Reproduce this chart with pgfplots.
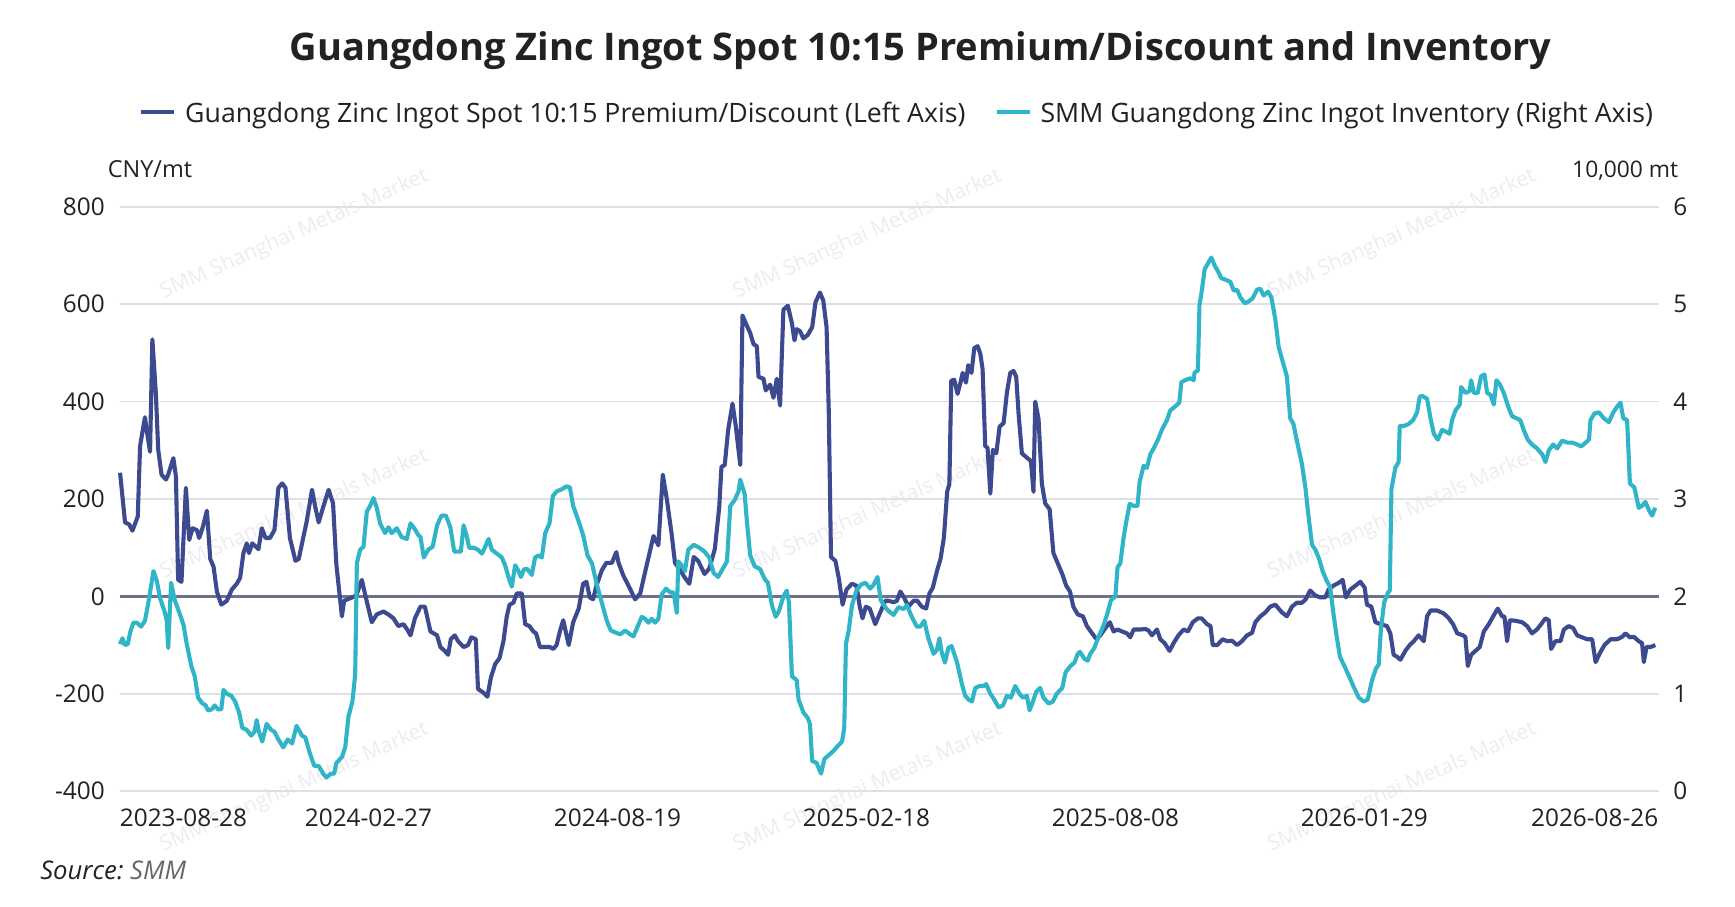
\documentclass[border=0pt]{standalone}
\usepackage{pgfplots}
\pgfplotsset{compat=1.18}
\usepackage{fontspec}
\setmainfont{Open Sans}
\definecolor{cdark}{HTML}{3D4A8F}
\definecolor{ccyan}{HTML}{2FB4C8}
\definecolor{cgrid}{HTML}{DFE0E7}
\definecolor{czero}{HTML}{6E7189}
\definecolor{ctext}{HTML}{222222}
\definecolor{cwm}{HTML}{EDEDF1}

\pgfplotstableread{
x y
108.5 254
113 152
116.7 148
119.7 135
124.5 164
126.6 309
131 368
132.6 341
135.6 297
137.7 528
140.8 419
143 301
146 250
150 240
152 250
156.7 284
159 246
161 34
164 30
168 223
171 116
174 140
178 136
180 120
183 140
187 176
190 77
193 61
196 10
200 -17
205 -9
209.5 14
214 26
217 38
220 89
223 109
225 89
228 109
233.6 97
236.6 140
240 120
244 120
248 136
251.6 223
255 232
258 223
262 120
267 73
270 77
274 120
277 152
282 219
285 183
288 152
292 183
297 219
301 191
304 65
309 -41
311 -9
314 -6
318.5 -2
322 2
327 34
330.6 -2
336 -53
340.5 -37
346.5 -31
351 -37
355.6 -45
360 -61
364.6 -57
368 -68
371 -80
375 -45
380 -21
384 -21
389 -72
395 -80
398 -104
402 -112
405 -120
407.4 -88
411 -80
414 -92
419 -104
423 -100
426 -84
430 -88
432 -190
437 -198
440.5 -206
443.6 -167
447.5 -139
451.4 -127
455 -92
458 -41
460.5 -17
464 -13
467 6
471.6 6
474.6 -57
478.5 -61
482 -72
484.5 -76
488 -104
493 -104
497 -104
500 -108
503 -100
506 -72
509 -49
514 -100
518 -53
523 -25
527 26
530 30
533 -2
536 -6
539 22
544 54
548 69
553 69
557 91
559 69
563.5 42
568 22
574 -6
578.6 6
583 50
590.6 124
595 105
599 250
602.7 199
607 128
610 69
614.7 54
619 38
623 26
627 81
631 73
636.7 46
641 57
646 97
650 183
652 266
655 270
658 341
662 396
665 349
669 270
671 577
674 561
678 541
681 518
684 514
685.5 451
690 447
692 423
696 435
699 408
702 447
705 392
708 589
712 597
715.7 561
718 526
720 549
723 545
726 530
730 537
734 553
737 604
741 624
744 608
747 553
749 380
751 81
755 73
758 38
761.5 -17
765 14
770 26
774 22
777 -21
779.5 -45
782.5 -21
786 -25
791 -57
795.5 -33
800 -9
803 -9
807.5 -12
810.6 -9
813.6 10
817 -2
821 -21
825.6 -9
829 -9
833 -21
837 -25
840 6
843 18
847 54
850 77
853 120
856 215
858 231
859.7 443
862.4 445
865.4 416
868 439
870 459
873 439
875 475
878 459
880.5 510
883.5 514
886 498
888 467
890.4 309
892.5 305
895 211
897.3 301
900.4 294
903.4 349
907 356
910 419
913 459
916 463
918.4 451
920.5 376
923.5 294
927.5 286
931.7 278
934 215
935.6 400
938.6 364
941.6 231
944.6 191
948.6 179
952 89
955 73
960 46
963.6 22
967 10
970 -21
974 -37
978.7 -41
982.3 -61
987 -76
991 -88
994.4 -80
999 -65
1003 -53
1006.4 -72
1010 -68
1014 -72
1018.5 -76
1021.5 -84
1024.5 -68
1030.5 -68
1035 -67
1038 -70
1041 -80
1045.6 -68
1048.6 -88
1052.5 -96
1057 -112
1060.6 -96
1065 -80
1069.7 -68
1073.6 -72
1078 -53
1082.6 -45
1086 -45
1090.8 -57
1094 -61
1096 -100
1100 -100
1105 -88
1109 -92
1113.4 -91
1118 -100
1122.4 -92
1127 -80
1131.5 -75
1134.5 -53
1139 -41
1143.5 -33
1148 -21
1152.5 -17
1158.6 -33
1163 -41
1167.6 -21
1172 -13
1176.7 -13
1180 -6
1184 12
1188.7 2
1193 -2
1197.7 -2
1200.7 14
1205 22
1210 28
1213.4 34
1216.4 -2
1220.3 14
1225 22
1229.4 30
1233.3 18
1235.4 -17
1239.3 -21
1243 -53
1247.5 -57
1253.5 -61
1256.5 -76
1259.5 -120
1262.6 -124
1265.6 -130
1270 -112
1274 -100
1277.7 -92
1282 -80
1286.7 -92
1289.7 -41
1292.8 -29
1298.8 -29
1304.8 -35
1309.3 -45
1313.2 -57
1317 -76
1322.3 -80
1324.4 -84
1326.5 -143
1329.5 -120
1333.4 -112
1337.3 -104
1341 -72
1345.5 -57
1349.4 -41
1353.6 -25
1357.5 -41
1359.6 -41
1362 -92
1364.5 -49
1369.6 -50
1375.6 -53
1380.1 -61
1384.6 -76
1389 -68
1392.8 -57
1396.7 -45
1399.7 -49
1401.8 -108
1405.7 -92
1410.3 -92
1413.3 -68
1417.8 -61
1421.7 -65
1425.3 -80
1429.8 -84
1434.4 -88
1438.9 -88
1442 -135
1446 -116
1450 -100
1455.5 -88
1461.5 -88
1466 -83
1469 -76
1473 -84
1476.6 -83
1481 -92
1484 -96
1485.6 -135
1488 -104
1491.6 -104
1496 -100
}\premium

\pgfplotstableread{
x y
108.5 1.51
110.6 1.57
113 1.50
115.5 1.51
117.6 1.63
120.6 1.73
123.6 1.73
127.5 1.69
131 1.75
134 1.93
138.7 2.26
141.7 2.16
144.7 1.98
148.6 1.85
150.7 1.75
152 1.47
154.6 2.14
158 1.96
162.8 1.81
165.8 1.71
168.8 1.51
173 1.28
176 1.18
179 0.96
183 0.90
186 0.88
187.8 0.83
191.4 0.84
194 0.88
197 0.84
200 0.84
202 1.04
205 1.00
209 0.98
212.5 0.92
216 0.81
219 0.65
223 0.63
227 0.57
230 0.61
232 0.73
234 0.61
237 0.51
241 0.69
245 0.63
248 0.61
251.6 0.53
256 0.45
260 0.53
264 0.49
268 0.67
273 0.57
276 0.55
280 0.39
284 0.26
288 0.26
292 0.18
295 0.14
299 0.18
302 0.18
304 0.29
309 0.35
312 0.45
315 0.77
318.5 0.92
321 1.20
322.5 2.34
325.5 2.48
328.5 2.51
331.5 2.87
334.5 2.93
337.5 3.01
340.5 2.91
343.5 2.75
348 2.65
351 2.71
354 2.65
358.6 2.70
363 2.61
367.6 2.59
371 2.75
375 2.69
378 2.63
380 2.61
383 2.40
387 2.48
391 2.51
395 2.73
399 2.83
403 2.83
407 2.71
410.5 2.46
413.5 2.46
416.5 2.46
419 2.73
422 2.61
424 2.50
428 2.50
432 2.48
435.5 2.44
438.5 2.51
441.5 2.59
444.5 2.48
449 2.44
453.5 2.40
456.5 2.32
459.5 2.20
462.5 2.10
465.6 2.32
468.6 2.26
470.7 2.20
473.7 2.28
476.7 2.28
480.6 2.22
483.6 2.40
486.7 2.42
489.7 2.40
492.7 2.65
496.6 2.75
499.6 3.03
503.2 3.08
507.7 3.10
512 3.13
515 3.12
518 2.93
523 2.77
527 2.63
531 2.42
535 2.34
539 2.14
544 1.93
548.4 1.75
552 1.65
556 1.63
560.5 1.61
565 1.65
569.5 1.61
572.5 1.59
577 1.71
580 1.79
583 1.77
586 1.73
589 1.77
592 1.73
595 1.77
598 2.02
602 2.08
605.7 2.04
608.7 2.04
611.7 1.83
613 2.36
616 2.32
619 2.26
622 2.48
627 2.53
632 2.50
636.7 2.46
641 2.40
645 2.24
649 2.20
653 2.28
657 2.36
660 2.93
664 2.99
667.5 3.08
669 3.20
673 3.05
675 2.77
678 2.42
682 2.31
687 2.28
691 2.18
694 2.14
697.6 1.91
701 1.79
704 1.85
708 2.00
711 2.06
713 1.94
715.7 1.18
720 1.14
721.7 0.94
726 0.81
730 0.75
732 0.69
734 0.31
738 0.29
742 0.18
745 0.33
749 0.37
753 0.41
756 0.45
761 0.51
763 0.65
764.5 1.51
767 1.65
770 1.91
774 2.06
778 2.12
782 2.14
786.5 2.08
789.5 2.12
793 2.20
796 1.96
800 1.89
803 1.85
807.5 1.81
812 1.89
816.6 1.87
819.6 1.91
824 1.79
828.6 1.69
831.7 1.69
835.3 1.75
839 1.57
843.7 1.41
846.7 1.45
849 1.57
851 1.43
854 1.32
857 1.47
860 1.49
865 1.32
869.3 1.10
872.3 0.98
875.4 0.94
878.4 0.92
881.4 1.06
885.3 1.08
889 1.08
891.3 1.10
895 1.00
898.5 0.94
902.5 0.86
906.4 0.88
910 0.98
913.6 0.96
917.5 1.08
921.4 1.00
924.5 0.96
928 0.98
930.5 0.83
933.5 0.92
936.5 1.02
940 1.06
943 0.96
947.7 0.90
951.5 0.92
955 1.00
960 1.06
963 1.22
967 1.28
971 1.32
974 1.41
976 1.43
980 1.36
983 1.34
985.3 1.41
989 1.47
993 1.59
997 1.69
1000.4 1.81
1004 1.96
1008 2.00
1010 2.30
1012.5 2.34
1015.5 2.61
1018.5 2.81
1021 2.95
1024.5 2.93
1028 2.93
1030 3.18
1033.5 3.34
1036.5 3.32
1039.6 3.46
1042.6 3.52
1046.5 3.61
1050 3.71
1054.6 3.81
1057.6 3.91
1062 3.95
1065.8 3.99
1067.6 4.20
1071 4.22
1075.7 4.24
1078.7 4.22
1079.6 4.30
1082.6 4.32
1084 4.99
1086 5.13
1088.7 5.36
1091.7 5.42
1094.7 5.48
1097.7 5.40
1100.7 5.34
1103.7 5.27
1108 5.25
1112 5.23
1115 5.14
1118 5.15
1121 5.07
1125 5.01
1128.5 5.03
1132 5.06
1136 5.15
1139 5.16
1142 5.09
1146 5.13
1149 5.07
1152.5 4.85
1155.6 4.56
1159 4.42
1163 4.26
1166 3.83
1169 3.77
1172 3.60
1176.6 3.36
1179.7 3.12
1182.7 2.81
1185.7 2.53
1188.7 2.48
1192.3 2.38
1195.3 2.26
1199 2.16
1202 2.10
1205 1.83
1208 1.59
1211 1.38
1216 1.26
1220 1.16
1223 1.08
1228 0.96
1232.4 0.92
1236 0.94
1240 1.14
1243.5 1.26
1246 1.30
1248 1.67
1251 1.94
1254.4 2.04
1256 2.06
1257.5 3.10
1261 3.32
1264 3.38
1265 3.75
1268.7 3.75
1273 3.77
1277 3.81
1280.7 3.89
1283 4.05
1285.2 4.06
1289.7 4.03
1292.8 3.83
1295.8 3.67
1299.4 3.61
1303.3 3.71
1307.2 3.69
1310 3.67
1312.3 3.81
1315.4 3.91
1319.3 3.97
1320.5 4.15
1324.4 4.09
1328.3 4.11
1329.5 4.22
1332 4.09
1335.5 4.09
1338.5 4.26
1341.6 4.28
1344 4.09
1347 4.07
1350 3.97
1352.4 4.22
1355.4 4.18
1359 4.09
1363.6 3.93
1366.6 3.85
1370.5 3.83
1374 3.81
1377 3.71
1380.7 3.61
1384.6 3.56
1389 3.52
1393.7 3.46
1396.7 3.38
1399.7 3.50
1403.6 3.56
1407.3 3.52
1411.8 3.60
1416.3 3.58
1420.8 3.58
1425.3 3.56
1429 3.54
1433 3.58
1436 3.61
1437.4 3.81
1441 3.88
1445 3.89
1449.4 3.83
1454 3.79
1458 3.89
1461.5 3.95
1464.5 3.99
1467 3.83
1470.5 3.81
1473 3.16
1477 3.12
1481 2.91
1484 2.93
1487 2.97
1490 2.89
1493 2.83
1496 2.91
}\inventory

\begin{document}
\begin{tikzpicture}[x=1pt,y=1pt]
\path[use as bounding box] (0,0) rectangle (784,409.5);
\fill[white] (0,0) rectangle (784,409.5);
% watermarks
\foreach \wx in {133,392,633.5}{
  \foreach \wy in {303.5,177,53.5}{
    \node[rotate=24,text=cwm,font=\fontsize{9.5}{11}\selectfont] at (\wx,\wy) {SMM Shanghai Metals Market};
  }
}

\begin{axis}[
  at={(54pt,52pt)}, anchor=south west,
  scale only axis, width=695.5pt, height=264pt,
  xmin=108, xmax=1499, ymin=-400, ymax=800,
  axis x line*=bottom, axis y line*=left,
  axis line style={draw=none},
  tick style={draw=none},
  xtick={333,558,783,1008,1233},
  xticklabels={2024-02-27,2024-08-19,2025-02-18,2025-08-08,2026-01-29},
  ytick={-400,-200,0,200,400,600,800},
  yticklabels={-400,-200,0,200,400,600,800},
  ymajorgrids, grid style={cgrid, line width=0.75pt},
  every tick label/.append style={font=\fontsize{11}{13}\selectfont, text=ctext},
  xticklabel style={inner sep=0pt, anchor=north, yshift=-8pt},
  yticklabel style={inner sep=0pt, anchor=east, xshift=-6.5pt},
  clip=false,
]
\draw[czero, line width=1pt] (axis cs:108,0) -- (axis cs:1499,0);
\addplot[cdark, line width=1.85pt, line join=round] table[x=x,y=y] {\premium};
\node[anchor=north west, inner sep=0pt, font=\fontsize{11}{13}\selectfont, text=ctext, yshift=-8pt] at (axis cs:108,-400) {2023-08-28};
\node[anchor=north east, inner sep=0pt, font=\fontsize{11}{13}\selectfont, text=ctext, yshift=-8pt] at (axis cs:1499,-400) {2026-08-26};
\end{axis}

\begin{axis}[
  at={(54pt,52pt)}, anchor=south west,
  scale only axis, width=695.5pt, height=264pt,
  xmin=108, xmax=1499, ymin=0, ymax=6,
  axis x line=none, axis y line*=right,
  axis line style={draw=none},
  tick style={draw=none},
  ytick={0,1,2,3,4,5,6},
  yticklabels={0,1,2,3,4,5,6},
  every tick label/.append style={font=\fontsize{11}{13}\selectfont, text=ctext},
  yticklabel style={inner sep=0pt, anchor=west, xshift=6.5pt},
  clip=false,
]
\addplot[ccyan, line width=1.85pt, line join=round] table[x=x,y=y] {\inventory};
\end{axis}

% title
\node[anchor=base, text=ctext, font=\fontsize{17.2}{20}\selectfont\bfseries] at (416,382) {Guangdong Zinc Ingot Spot 10:15 Premium/Discount and Inventory};
% legend
\draw[cdark, line width=1.6pt] (63.5,359) -- (78.5,359);
\node[anchor=base west, inner sep=0pt, text=ctext, font=\fontsize{12.05}{14}\selectfont] at (83.5,354) {Guangdong Zinc Ingot Spot 10:15 Premium/Discount (Left Axis)};
\draw[ccyan, line width=1.6pt] (450.5,359) -- (465.5,359);
\node[anchor=base west, inner sep=0pt, text=ctext, font=\fontsize{12.05}{14}\selectfont] at (470,354) {SMM Guangdong Zinc Ingot Inventory (Right Axis)};
% units
\node[anchor=base west, inner sep=0pt, text=ctext, font=\fontsize{10.6}{12}\selectfont] at (48.5,329.5) {CNY/mt};
\node[anchor=base east, inner sep=0pt, text=ctext, font=\fontsize{10.3}{12}\selectfont] at (758.5,329.5) {10,000 mt};
% source
\node[anchor=base west, inner sep=0pt, font=\fontsize{11.6}{13}\selectfont\itshape] at (18,12) {\textcolor{ctext}{Source:}\ \textcolor{black!60}{SMM}};
\end{tikzpicture}
\end{document}
